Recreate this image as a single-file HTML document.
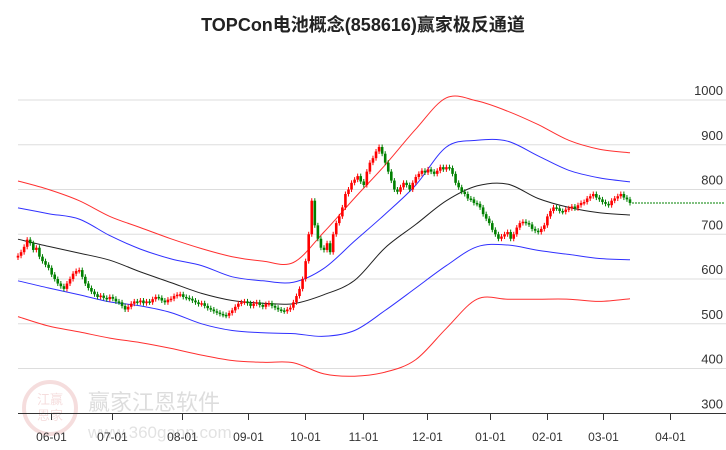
<!DOCTYPE html>
<html><head><meta charset="utf-8"><style>
body{margin:0;background:#fff;}
svg{display:block;font-family:"Liberation Sans","Noto Sans CJK SC",sans-serif;}
</style></head><body>
<svg id="chart" width="726" height="450" viewBox="0 0 726 450">
<text x="363" y="31" text-anchor="middle" font-size="18" font-weight="bold" fill="#222">TOPCon电池概念(858616)赢家极反通道</text>
<g opacity="0.28">
<circle cx="50" cy="408" r="26" fill="none" stroke="#d88" stroke-width="4"/>
<text x="50" y="404" text-anchor="middle" font-size="13" fill="#d88">江赢</text>
<text x="50" y="420" text-anchor="middle" font-size="13" fill="#d88">恩家</text>
<text x="88" y="410" font-size="22" fill="#888">赢家江恩软件</text>
<text x="88" y="438" font-size="17" fill="#999">www.360gann.com</text>
</g>
<g id="grid"></g><g id="bands"></g><g id="candles"></g><g id="axes"></g>
</svg>
<script>
const closes=[652,660,672,688,680,665,670,650,640,632,
625,610,600,590,584,578,590,600,612,618,
620,605,590,580,572,566,560,563,558,555,
560,556,550,548,540,532,538,545,550,548,
552,546,550,548,555,560,558,552,548,554,
556,562,565,566,560,558,556,552,548,544,
546,540,535,532,528,525,522,520,518,524,
530,538,545,548,550,546,540,545,548,542,
538,544,546,540,536,532,530,528,532,536,
548,562,578,600,640,700,775,720,690,670,
665,680,660,700,725,740,760,790,800,815,
822,830,818,810,840,860,870,885,895,880,
860,840,820,800,795,805,815,810,800,815,
828,835,842,838,845,840,835,842,850,845,
850,848,835,815,805,795,790,780,778,770,
768,760,745,735,725,710,700,690,695,700,
705,690,700,715,725,728,725,722,712,708,
705,712,720,740,752,760,758,752,750,755,
758,762,758,765,770,772,780,785,790,782,
778,772,768,765,775,780,785,790,782,778,770];
const firstOpen=648;
const midBand=[689,673,658,642,616,592,568,552,546,545,565,597,670,722,775,808,812,780,760,748,743];
const blueUpper=[759,746,734,697,667,645,630,605,596,593,624,685,745,810,895,910,908,875,843,826,817];
const blueLower=[596,580,565,549,540,525,500,485,480,478,472,485,530,580,630,672,676,664,655,646,643];
const redUpper=[819,800,775,740,715,690,668,650,640,637,705,781,855,935,1005,998,975,945,910,890,882];
const redLower=[516,495,482,468,458,445,430,418,414,413,388,383,392,420,490,555,555,555,555,550,556];
const bandStep=10;
const yTicks=[1000,900,800,700,600,500,400,300];
const xTickLabels=['06-01','07-01','08-01','09-01','10-01','11-01','12-01','01-01','02-01','03-01','04-01'];
const xTickIndex=[10.8,30.8,53.6,75.2,93.8,112.7,133.7,154.3,172.9,191.2,213];
const lastPrice=770;

const NS='http://www.w3.org/2000/svg';
const x0=18,step=3.06;
function X(i){return x0+i*step;}
function Y(p){return 100+(1000-p)*0.4476;}
function mk(tag,attrs,parent){const e=document.createElementNS(NS,tag);for(const k in attrs)e.setAttribute(k,attrs[k]);parent.appendChild(e);return e;}
const grid=document.getElementById('grid'),axes=document.getElementById('axes'),bands=document.getElementById('bands'),cg=document.getElementById('candles');
yTicks.forEach(v=>{
  if(v>300){const l=mk('line',{x1:18,x2:726,y1:Y(v),y2:Y(v),stroke:'#ddd','stroke-width':1},grid);
  
  }
  const t=mk('text',{x:723,y:Y(v)-5,'text-anchor':'end','font-size':13,fill:'#333'},axes);
  t.textContent=v;
  
  
});
const ax=mk('line',{x1:18,x2:726,y1:413.5,y2:413.5,stroke:'#333','stroke-width':1},axes);


xTickLabels.forEach((s,k)=>{
  const x=Math.round(X(xTickIndex[k]))+0.5;
  const tk=mk('line',{x1:x,x2:x,y1:413,y2:420,stroke:'#333'},axes);
  
  
  const t=mk('text',{x:x,y:441,'text-anchor':'middle','font-size':12,fill:'#333'},axes);
  t.textContent=s;
  
  
});
function band(arr,color,name){
  const P=arr.map((v,k)=>[X(k*bandStep),Y(v)]);
  let d='M'+P[0][0].toFixed(1)+','+P[0][1].toFixed(1);
  for(let i=0;i<P.length-1;i++){
    const p0=P[Math.max(0,i-1)],p1=P[i],p2=P[i+1],p3=P[Math.min(P.length-1,i+2)];
    const c1=[p1[0]+(p2[0]-p0[0])/6,p1[1]+(p2[1]-p0[1])/6];
    const c2=[p2[0]-(p3[0]-p1[0])/6,p2[1]-(p3[1]-p1[1])/6];
    d+=' C'+c1[0].toFixed(1)+','+c1[1].toFixed(1)+' '+c2[0].toFixed(1)+','+c2[1].toFixed(1)+' '+p2[0].toFixed(1)+','+p2[1].toFixed(1);
  }
  const p=mk('path',{d:d,fill:'none',stroke:color,'stroke-width':1},bands);
  
  
}
band(redUpper,'#ff3030','red-upper-band');
band(blueUpper,'#3030ff','blue-upper-band');
band(midBand,'#222','middle-line');
band(blueLower,'#3030ff','blue-lower-band');
band(redLower,'#ff3030','red-lower-band');
closes.forEach((c,i)=>{
  const o=i===0?firstOpen:closes[i-1];
  const up=c>=o;const col=up?'#ff0000':'#008000';
  const x=X(i);const yt=Y(Math.max(o,c)),yb=Y(Math.min(o,c));
  const w=mk('line',{x1:x,x2:x,y1:yt-2.5,y2:yb+2.5,stroke:col,'stroke-width':1},cg);
  
  
  const r=mk('rect',{x:x-1.3,y:yt,width:2.6,height:Math.max(1.5,yb-yt),fill:col},cg);
  
  
});
const lp=mk('line',{x1:X(closes.length-1)+2,x2:724,y1:Y(lastPrice),y2:Y(lastPrice),stroke:'#008000','stroke-width':1,'stroke-dasharray':'2,1'},cg);


</script>
</body></html>
